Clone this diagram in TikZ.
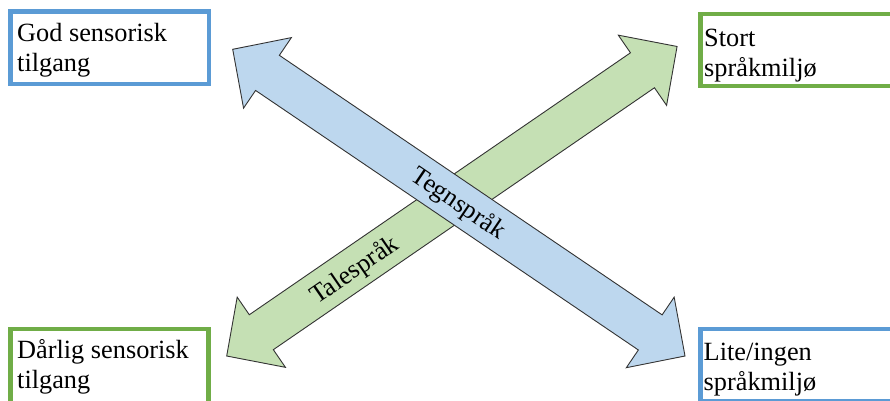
\documentclass[tikz,border=0pt]{standalone}
\usepackage{fontspec}
\setmainfont{Liberation Serif}
\definecolor{frameblue}{HTML}{5B9BD5}
\definecolor{framegreen}{HTML}{70AD47}
\definecolor{fillblue}{HTML}{BDD7EE}
\definecolor{fillgreen}{HTML}{C5E0B4}
\definecolor{edgegray}{HTML}{333333}
\begin{document}
\begin{tikzpicture}[x=1pt,y=-1pt,
  boxblue/.style={draw=frameblue,line width=4.5pt,fill=white},
  boxgreen/.style={draw=framegreen,line width=4.5pt,fill=white},
  lbl/.style={inner sep=0pt,anchor=base west,font=\fontsize{26.3}{30}\selectfont},
  arrowlbl/.style={inner sep=0pt,font=\fontsize{26}{30}\selectfont},
  arrowblue/.style={draw=edgegray,line width=0.9pt,fill=fillblue,line join=miter},
  arrowgreen/.style={draw=edgegray,line width=0.9pt,fill=fillgreen,line join=miter}]
\useasboundingbox (0,0) rectangle (890,400);
\clip (0,0) rectangle (890,400);
\fill[white] (0,0) rectangle (890,400);

% frames
\draw[boxblue]  (10.5,11.7) rectangle (208.8,84);
\draw[boxgreen] (700.7,14.2) rectangle (905,85.8);
\draw[boxgreen] (10.5,329) rectangle (208.3,403);
\draw[boxblue]  (700.7,329) rectangle (905,401);

% texts in frames
\node[lbl] (tl1) at (17,41.7) {God sensorisk};
\node[lbl] (tl2) at (17,71.7) {tilgang};
\node[lbl] (tr1) at (704,46.7) {Stort};
\node[lbl] (tr2) at (704,76.7) {språkmiljø};
\node[lbl] (bl1) at (17,358.3) {Dårlig sensorisk};
\node[lbl] (bl2) at (17,388.3) {tilgang};
\node[lbl] (br1) at (703.5,360) {Lite/ingen};
\node[lbl] (br2) at (703.5,390) {språkmiljø};

% green double arrow (Talespråk)
\begin{scope}[shift={(226.7,356)},rotate=34.5]
\draw[arrowgreen] (0,0) -- (42,42.6) -- (42,21.2) -- (504.5,21.2) -- (504.5,42.6) -- (546.5,0)
  -- (504.5,-42.6) -- (504.5,-21.2) -- (42,-21.2) -- (42,-42.6) -- cycle;
\end{scope}

% blue double arrow (Tegnspråk)
\begin{scope}[shift={(232.7,49.3)},rotate=-34.14]
\draw[arrowblue] (0,0) -- (42,42.6) -- (42,21.2) -- (504.5,21.2) -- (504.5,42.6) -- (546.5,0)
  -- (504.5,-42.6) -- (504.5,-21.2) -- (42,-21.2) -- (42,-42.6) -- cycle;
\end{scope}

\node[arrowlbl,rotate=34.5] (tale) at (355,271) {Talespråk};
\node[arrowlbl,rotate=-34.14] (tegn) at (458,204) {Tegnspråk};
\end{tikzpicture}
\end{document}
